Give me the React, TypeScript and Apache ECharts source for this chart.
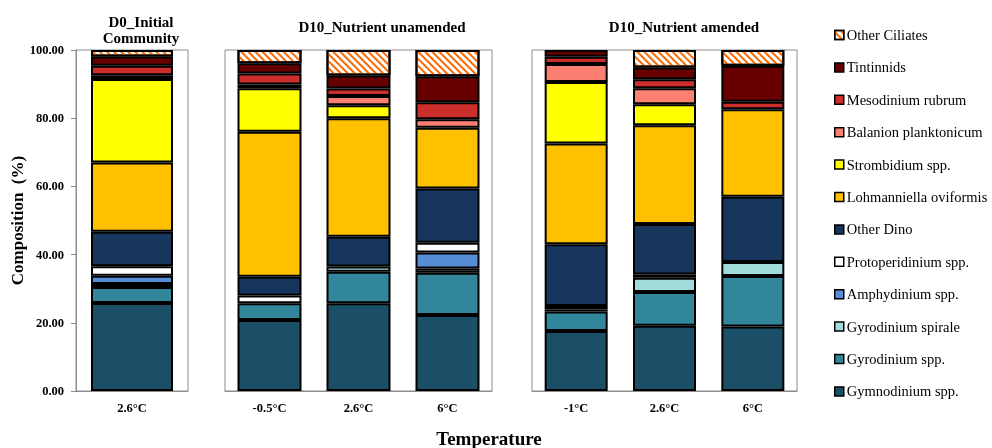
import React, { useEffect, useRef } from 'react';
import * as echarts from 'echarts';

// Categories per panel
const d0Categories = ['2.6°C'];
const unamendedCategories = ['-0.5°C', '2.6°C', '6°C'];
const amendedCategories = ['-1°C', '2.6°C', '6°C'];

const panelTitles = ['D0_Initial\nCommunity', 'D10_Nutrient unamended', 'D10_Nutrient amended'];
const yTicks = [0, 20, 40, 60, 80, 100];

// Values per species, order: D0 (2.6), unamended (-0.5, 2.6, 6), amended (-1, 2.6, 6)
const gymnodinium = [25.8, 20.8, 25.7, 22.3, 17.6, 19.1, 18.9];
const gyrodiniumSpp = [4.7, 4.9, 9.3, 12.4, 5.7, 9.9, 14.8];
const gyrodiniumSpirale = [0.9, 0, 1.5, 1.2, 0.6, 4.2, 4.1];
const amphydinium = [2.4, 0, 0, 4.7, 0, 1.0, 0];
const protoperidinium = [2.8, 2.3, 0, 2.9, 1.0, 0, 0];
const otherDino = [10.1, 5.5, 8.7, 15.9, 18.1, 14.8, 19.2];
const lohmanniella = [20.3, 42.5, 34.8, 17.8, 29.6, 28.9, 25.6];
const strombidium = [24.5, 12.8, 3.8, 0, 18.0, 6.2, 0];
const balanion = [1.1, 1.1, 2.7, 2.5, 5.3, 4.7, 0];
const mesodinium = [2.8, 3.2, 2.2, 5.0, 2.1, 2.6, 2.2];
const tintinnids = [2.7, 3.0, 3.8, 7.6, 2.0, 3.5, 10.6];
const otherCiliates = [1.9, 3.9, 7.5, 7.7, 0, 5.1, 4.6];

const speciesNames = [
  'Gymnodinium spp.',
  'Gyrodinium spp.',
  'Gyrodinium spirale',
  'Amphydinium spp.',
  'Protoperidinium spp.',
  'Other Dino',
  'Lohmanniella oviformis',
  'Strombidium spp.',
  'Balanion planktonicum',
  'Mesodinium rubrum',
  'Tintinnids',
  'Other Ciliates',
];
const speciesValues = [
  gymnodinium, gyrodiniumSpp, gyrodiniumSpirale, amphydinium, protoperidinium, otherDino,
  lohmanniella, strombidium, balanion, mesodinium, tintinnids, otherCiliates,
];
const speciesColors = [
  '#1a4f67', '#31869b', '#a2dbdc', '#558ed5', '#ffffff', '#17365d',
  '#ffc000', '#ffff00', '#fb8072', '#cc2f2b', '#660000', '#ffffff',
];

const FONT = 'Liberation Serif, Times New Roman, serif';

const panels = [
  { cats: d0Categories, start: 0, left: 76, width: 112, barWidth: 82 },
  { cats: unamendedCategories, start: 1, left: 225, width: 267, barWidth: 64 },
  { cats: amendedCategories, start: 4, left: 532, width: 265, barWidth: 63 },
];

export default function App() {
  const ref = useRef<HTMLDivElement>(null);
  useEffect(() => {
    if (!ref.current) return;
    const chart = echarts.init(ref.current, null, { renderer: 'svg' });
    const top = 50;
    const height = 341;

    const grids = panels.map((p) => ({
      left: p.left,
      top,
      width: p.width,
      height,
      show: true,
      borderColor: '#8c8c8c',
      borderWidth: 1,
      backgroundColor: 'transparent',
      containLabel: false,
    }));

    const xAxes = panels.map((p, i) => ({
      type: 'category' as const,
      gridIndex: i,
      data: p.cats,
      axisLine: { show: true, lineStyle: { color: '#8c8c8c', width: 1 } },
      axisTick: { show: false },
      axisLabel: {
        color: '#000',
        fontFamily: FONT,
        fontWeight: 'bold',
        fontSize: 12.5,
        margin: 10,
      },
    }));

    const yAxes = panels.map((p, i) => ({
      type: 'value' as const,
      gridIndex: i,
      min: 0,
      max: 100,
      interval: 20,
      splitLine: { show: false },
      axisLine: { show: i === 0, lineStyle: { color: '#8c8c8c', width: 1 } },
      axisTick: { show: i === 0, length: 5, lineStyle: { color: '#8c8c8c' } },
      axisLabel: {
        show: i === 0,
        color: '#000',
        fontFamily: FONT,
        fontWeight: 'bold',
        fontSize: 12.5,
        margin: 12,
        formatter: (v: number) => (yTicks.includes(v) ? v.toFixed(2) : ''),
      },
      name: i === 0 ? 'Composition  (%)' : '',
      nameLocation: 'middle' as const,
      nameGap: 50,
      nameTextStyle: {
        color: '#000',
        fontFamily: FONT,
        fontWeight: 'bold',
        fontSize: 17,
      },
    }));

    const series: any[] = [];
    panels.forEach((p, gi) => {
      speciesNames.forEach((name, si) => {
        const vals = speciesValues[si].slice(p.start, p.start + p.cats.length);
        const isHatch = name === 'Other Ciliates';
        series.push({
          type: 'bar',
          name,
          xAxisIndex: gi,
          yAxisIndex: gi,
          stack: 'panel' + gi,
          barWidth: p.barWidth,
          data: vals.map((v) => (v === 0 ? '-' : v)),
          itemStyle: {
            color: speciesColors[si],
            borderColor: '#000',
            borderWidth: 2,
            ...(isHatch
              ? {
                  decal: {
                    symbol: 'rect',
                    symbolSize: 1,
                    dashArrayX: [[1, 0]],
                    dashArrayY: [2, 3],
                    rotation: Math.PI / 4,
                    color: '#ff6a00',
                    backgroundColor: '#ffffff',
                  },
                }
              : {}),
          },
          emphasis: { disabled: true },
        });
      });
    });

    const titleGraphics = [
      { x: 141, y: 14, text: 'D0_Initial' },
      { x: 141, y: 30, text: 'Community' },
      { x: 382, y: 19, text: panelTitles[1] },
      { x: 684, y: 19, text: panelTitles[2] },
    ].map((t) => ({
      type: 'text',
      x: t.x,
      y: t.y,
      style: {
        text: t.text,
        fill: '#000',
        fontFamily: FONT,
        fontWeight: 'bold',
        fontSize: 15,
        textAlign: 'center',
        textVerticalAlign: 'top',
      },
    }));

    chart.setOption({
      animation: false,
      grid: grids,
      xAxis: xAxes,
      yAxis: yAxes,
      series,
      legend: {
        orient: 'vertical',
        left: 834,
        top: 27.5,
        padding: 0,
        itemWidth: 9,
        itemHeight: 9,
        itemGap: 17.4,
        icon: 'rect',
        selectedMode: false,
        data: speciesNames.slice().reverse(),
        textStyle: {
          color: '#000',
          fontFamily: FONT,
          fontSize: 14.5,
          padding: [0, 0, 0, -2],
        },
        itemStyle: { borderColor: '#000', borderWidth: 1.5 },
      },
      graphic: [
        ...titleGraphics,
        {
          type: 'text',
          x: 489,
          y: 438,
          style: {
            text: 'Temperature',
            fill: '#000',
            fontFamily: FONT,
            fontWeight: 'bold',
            fontSize: 19,
            textAlign: 'center',
            textVerticalAlign: 'middle',
          },
        },
      ],
    });
    return () => chart.dispose();
  }, []);
  return (
    <div
      ref={ref}
      style={{ position: 'fixed', left: 0, top: 0, width: 992, height: 448 }}
    />
  );
}
